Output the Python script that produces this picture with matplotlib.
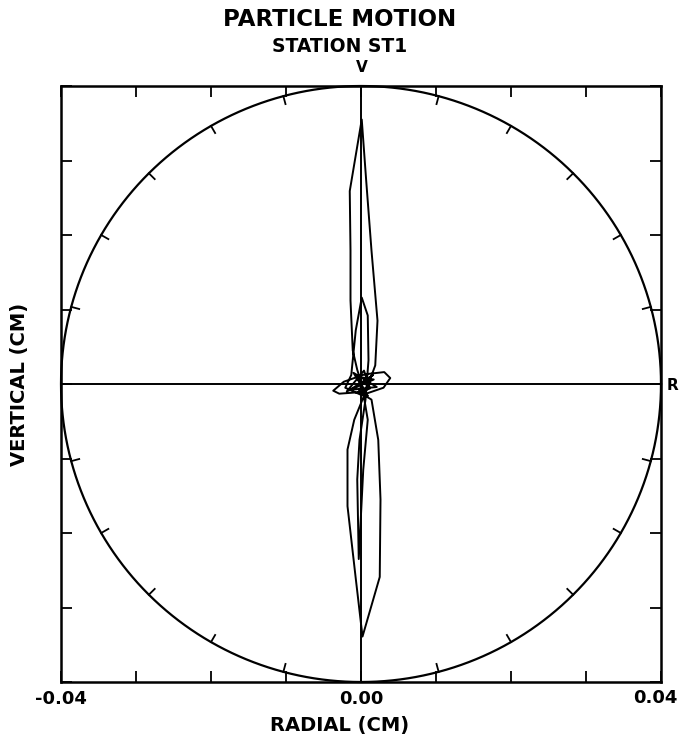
""" Particle motion plot, station ST1 """
import numpy as np
import matplotlib.pyplot as plt

# trace (cm)
radial = [0.0001, -0.0005, -0.0011, -0.0014, -0.0014, -0.0015, 0.0001, 0.0007, 0.0014, 0.0022,
          0.0019, 0.0006, -0.0009, -0.0018, -0.0018, -0.0007, 0.0002, 0.0025, 0.0026, 0.0023,
          0.0014, -0.0002, -0.0029, -0.0037, -0.0023, 0.0005, 0.0031, 0.0039, 0.0030, 0.0001,
          -0.0021, -0.0013, -0.0007, 0.0001, 0.0009, 0.0010, 0.0006, -0.0002, -0.0005, -0.0003,
          0.0003, 0.0009, 0.0001, 0.0016, -0.0015, 0.0021, -0.0010, 0.0009, -0.0006, 0.0017,
          -0.0019, 0.0004, 0.0012, -0.0004, 0.0002]
vertical = [0.0, 0.0019, 0.0045, 0.0112, 0.0179, 0.0259, 0.0355, 0.0272, 0.0179, 0.0085,
            0.0025, -0.0011, -0.0048, -0.0088, -0.0164, -0.0261, -0.0339, -0.0259, -0.0155, -0.0075,
            -0.0021, -0.0011, -0.0013, -0.0009, 0.0003, 0.0013, 0.0016, 0.0008, -0.0005, -0.0015,
            -0.0005, 0.0012, 0.0072, 0.0116, 0.0092, 0.0032, -0.0021, -0.0075, -0.0128, -0.0235,
            -0.0115, -0.0048, 0.0, 0.0012, -0.0008, -0.0004, 0.0015, -0.0016, 0.0010, 0.0006,
            -0.0010, 0.0018, -0.0006, -0.0012, 0.0]

tick_vals = [-0.04, -0.03, -0.02, -0.01, 0.0, 0.01, 0.02, 0.03, 0.04]
tick_labels = ["-0.04", "", "", "", "0.00", "", "", "", ""]
right_label = "0.04"
circle_tick_deg = [15, 30, 45, 60, 75]   # per quadrant
radius = 0.04

plt.rcParams['font.weight'] = 'bold'

fig = plt.figure(figsize=(6.79, 7.39), dpi=100)
ax = fig.add_axes([61/679, 57/739, 600/679, 596/739])
ax.set_xlim(-radius, radius)
ax.set_ylim(-radius, radius)

# outer circle
th = np.linspace(0, 2*np.pi, 721)
ax.plot(radius*np.cos(th), radius*np.sin(th), color='black', lw=1.6, clip_on=False)

# short radial ticks on the circle
for q in range(4):
    for d in circle_tick_deg:
        a = np.deg2rad(d + 90*q)
        r = np.array([radius, radius - 0.0011])
        ax.plot(r*np.cos(a), r*np.sin(a), color='black', lw=1.3)

# cross hairs
ax.axhline(0, color='black', lw=1.4)
ax.axvline(0, color='black', lw=1.4)

ax.plot(radial, vertical, color='black', lw=1.4)

for s in ax.spines.values():
    s.set_linewidth(1.8)

ax.set_xticks(tick_vals)
ax.set_xticklabels(tick_labels)
ax.set_yticks(tick_vals)
ax.set_yticklabels([])
ax.tick_params(direction='in', length=8, width=1.3, top=True, right=True,
               labelsize=13, pad=6)

# last tick label sits at the page edge in the original
fig.text(678/679, 1 - 698/739, right_label, ha='right', va='center', fontsize=13, fontweight='bold')

fig.text(0.5, 1 - 20/739, "PARTICLE MOTION", ha='center', va='center', fontsize=16.5, fontweight='bold')
fig.text(0.5, 1 - 46/739, "STATION ST1", ha='center', va='center', fontsize=13.5, fontweight='bold')
fig.text(362/679, 1 - 67/739, "V", ha='center', va='center', fontsize=11, fontweight='bold')
fig.text(672/679, 1 - 385/739, "R", ha='center', va='center', fontsize=11, fontweight='bold')
fig.text(0.5, 1 - 725/739, "RADIAL (CM)", ha='center', va='center', fontsize=14, fontweight='bold')
fig.text(20/679, 1 - 384/739, "VERTICAL (CM)", ha='center', va='center', rotation=90,
         fontsize=14, fontweight='bold')

plt.savefig("out.png", dpi=100)
